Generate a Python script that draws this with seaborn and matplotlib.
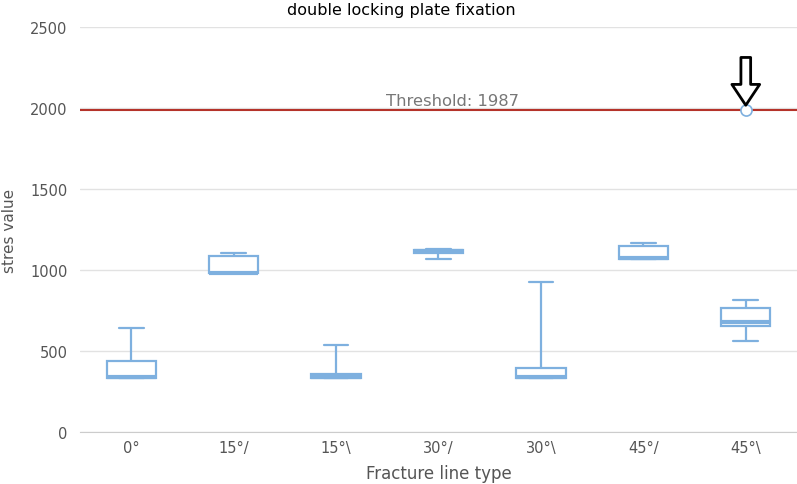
import pandas as pd
import matplotlib
matplotlib.use('Agg')
import matplotlib.pyplot as plt
import seaborn as sns

# Fracture line categories and per-category five-number values (min, Q1, median, Q3, max)
categories = ['0°', '15°/', '15°\\', '30°/', '30°\\', '45°/', '45°\\']
values_0 = [335, 335, 337, 438, 642]
values_15a = [981, 981, 984, 1085, 1105]
values_15b = [333, 333, 340, 358, 537]
values_30a = [1068, 1105, 1118, 1125, 1132]
values_30b = [333, 333, 338, 393, 924]
values_45a = [1065, 1068, 1072, 1150, 1167]
values_45b = [564, 656, 679, 765, 815]
threshold = 1987
flagged_category = '45°\\'

all_values = [values_0, values_15a, values_15b, values_30a, values_30b, values_45a, values_45b]
rows = []
for cat, vals in zip(categories, all_values):
    for v in vals:
        rows.append({'Fracture line type': cat, 'stres value': v})
df = pd.DataFrame(rows)

sns.set_style('white')
plt.rcParams['font.family'] = ['DejaVu Sans']

box_color = '#7eb0df'
text_color = '#555555'

fig = plt.figure(figsize=(7.97, 4.85), dpi=100)
ax = fig.add_axes([80 / 797, 1 - 433 / 485, 717 / 797, 405 / 485])

sns.boxplot(data=df, x='Fracture line type', y='stres value', order=categories,
            whis=(0, 100), width=0.48, color='white', linecolor=box_color,
            linewidth=1.6, showfliers=False, ax=ax,
            medianprops={'color': box_color, 'linewidth': 3})

# threshold line and label
ax.axhline(threshold, color='#b5332a', linewidth=1.5, zorder=3)
ax.text(3.14, threshold + 12, f'Threshold: {threshold}', ha='center', va='bottom',
        color='#777777', fontsize=11.8)

# marker for the flagged category on the threshold
fx = categories.index(flagged_category)
ax.plot([fx], [threshold], marker='o', markersize=8, markerfacecolor='white',
        markeredgecolor=box_color, markeredgewidth=1.2, zorder=5, clip_on=False)
ax.annotate('', xy=(fx, threshold + 30), xytext=(fx, threshold + 325),
            arrowprops=dict(facecolor='white', edgecolor='black', lw=2,
                            width=7, headwidth=20, headlength=15),
            annotation_clip=False, zorder=6)

ax.set_ylim(0, 2500)
ax.set_xlim(-0.5, len(categories) - 0.5)
ax.set_yticks([0, 500, 1000, 1500, 2000, 2500])
ax.grid(axis='y', color='#e2e2e2', linewidth=1)
ax.set_axisbelow(True)
for side in ['left', 'right', 'top']:
    ax.spines[side].set_visible(False)
ax.spines['bottom'].set_color('#cccccc')
ax.tick_params(axis='both', length=0, labelsize=10.5, labelcolor=text_color)
ax.tick_params(axis='x', pad=6)
ax.tick_params(axis='y', pad=9)
ax.set_xlabel('Fracture line type', fontsize=12, color=text_color, labelpad=6)
ax.set_ylabel('stres value', fontsize=11, color=text_color, labelpad=9)
fig.suptitle('double locking plate fixation', fontsize=11.5, color='black',
             x=0.503, y=0.993, va='top')

fig.savefig('out.png', dpi=100)
